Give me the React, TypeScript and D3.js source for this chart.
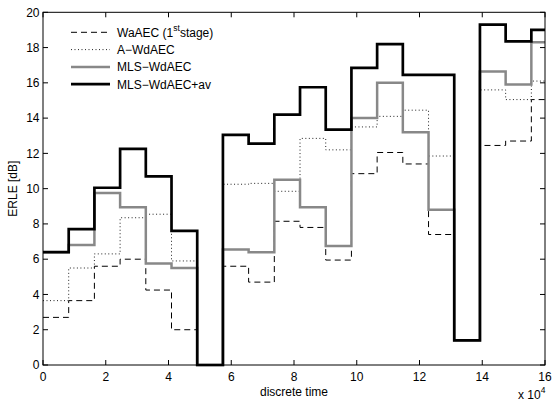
import React from "react";
import * as d3 from "d3";

// Frame-wise ERLE (dB) per 8192-sample block
const frameLength = 8192;
const waAEC = [2.7, 3.65, 5.6, 6.0, 4.25, 2.0, 0, 5.6, 4.7, 8.15, 7.8, 5.95, 10.85, 12.05, 11.4, 7.4, 1.4, 12.45, 12.7, 15.05];
const aWdAEC = [3.65, 5.5, 6.3, 8.35, 8.55, 5.9, 0, 10.25, 10.3, 9.85, 12.85, 12.2, 13.5, 14.1, 14.45, 11.85, 1.4, 15.6, 15.05, 16.1];
const mlsWdAEC = [6.4, 6.8, 9.75, 8.95, 5.75, 5.5, 0, 6.55, 6.4, 10.5, 8.95, 6.75, 14.0, 16.0, 13.2, 8.8, 1.4, 16.65, 15.9, 18.3];
const mlsWdAECav = [6.4, 7.7, 10.05, 12.25, 10.7, 7.6, 0, 13.05, 12.55, 14.2, 15.75, 13.35, 16.85, 18.2, 16.45, 16.45, 1.4, 19.3, 18.35, 19.0];

const xTicks = [0, 2, 4, 6, 8, 10, 12, 14, 16];
const yTicks = [0, 2, 4, 6, 8, 10, 12, 14, 16, 18, 20];

const W = 553;
const H = 402;
const m = { left: 43, right: 545, top: 12.3, bottom: 365 };
const font = "'Liberation Sans', Arial, Helvetica, sans-serif";
const fs = 12;

const x = d3.scaleLinear().domain([0, 160000]).range([m.left, m.right]);
const y = d3.scaleLinear().domain([0, 20]).range([m.bottom, m.top]);

type Pt = [number, number];
const toPoints = (vals: number[]): Pt[] => {
  const pts: Pt[] = vals.map((v, i) => [i * frameLength, v]);
  pts.push([vals.length * frameLength, vals[vals.length - 1]]);
  return pts;
};

const stepLine = d3
  .line<Pt>()
  .x((d) => x(d[0]))
  .y((d) => y(d[1]))
  .curve(d3.curveStepAfter);

const series = [
  { key: "wa", values: waAEC, stroke: "#000", width: 1, dash: "6,4" },
  { key: "a", values: aWdAEC, stroke: "#222", width: 1, dash: "1,2.5" },
  { key: "mls", values: mlsWdAEC, stroke: "#888", width: 2.5, dash: undefined },
  { key: "mlsav", values: mlsWdAECav, stroke: "#000", width: 2.7, dash: undefined },
];

const legendLabels = ["WaAEC", "A\u2212WdAEC", "MLS\u2212WdAEC", "MLS\u2212WdAEC+av"];

export default function App() {
  const tick = 5;
  return (
    <svg width={W} height={H} style={{ position: "absolute", left: 0, top: 0, background: "#fff" }} fontFamily={font}>
      <defs>
        <clipPath id="plotClip">
          <rect x={m.left} y={m.top - 2} width={m.right - m.left} height={m.bottom - m.top + 4} />
        </clipPath>
      </defs>
      <rect x={0} y={0} width={W} height={H} fill="#fff" />

      <g clipPath="url(#plotClip)">
        {series.map((s) => (
          <path
            key={s.key}
            d={stepLine(toPoints(s.values)) || ""}
            fill="none"
            stroke={s.stroke}
            strokeWidth={s.width}
            strokeDasharray={s.dash}
            strokeLinejoin="miter"
          />
        ))}
      </g>

      {/* axis box */}
      <rect x={m.left} y={m.top} width={m.right - m.left} height={m.bottom - m.top} fill="none" stroke="#000" strokeWidth={1} />

      {xTicks.map((t) => (
        <g key={"x" + t}>
          <line x1={x(t * 10000)} x2={x(t * 10000)} y1={m.bottom} y2={m.bottom - tick} stroke="#000" />
          <line x1={x(t * 10000)} x2={x(t * 10000)} y1={m.top} y2={m.top + tick} stroke="#000" />
          <text x={x(t * 10000)} y={381} fontSize={fs} textAnchor="middle">
            {t}
          </text>
        </g>
      ))}
      {yTicks.map((t) => (
        <g key={"y" + t}>
          <line x1={m.left} x2={m.left + tick} y1={y(t)} y2={y(t)} stroke="#000" />
          <line x1={m.right} x2={m.right - tick} y1={y(t)} y2={y(t)} stroke="#000" />
          <text x={39.5} y={y(t) + 4.3} fontSize={fs} textAnchor="end">
            {t}
          </text>
        </g>
      ))}

      <text x={(m.left + m.right) / 2} y={395.5} fontSize={fs} textAnchor="middle">
        discrete time
      </text>
      <text x={518} y={399} fontSize={fs}>
        x 10
        <tspan dy={-6} fontSize={8.5}>4</tspan>
      </text>
      <text transform={`translate(17,${(m.top + m.bottom) / 2}) rotate(-90)`} fontSize={fs} textAnchor="middle">
        ERLE [dB]
      </text>

      {/* legend */}
      {series.map((s, i) => {
        const ly = 32.3 + i * 17.3;
        return (
          <g key={"lg" + s.key}>
            <line x1={71} x2={110} y1={ly} y2={ly} stroke={s.stroke} strokeWidth={s.width} strokeDasharray={s.dash} />
            {i === 0 ? (
              <text x={117} y={ly + 4.3} fontSize={fs}>
                {legendLabels[0]} (1
                <tspan dy={-6} fontSize={8.5}>st</tspan>
                <tspan dy={6}>stage)</tspan>
              </text>
            ) : (
              <text x={117} y={ly + 4.3} fontSize={fs}>
                {legendLabels[i]}
              </text>
            )}
          </g>
        );
      })}
    </svg>
  );
}
